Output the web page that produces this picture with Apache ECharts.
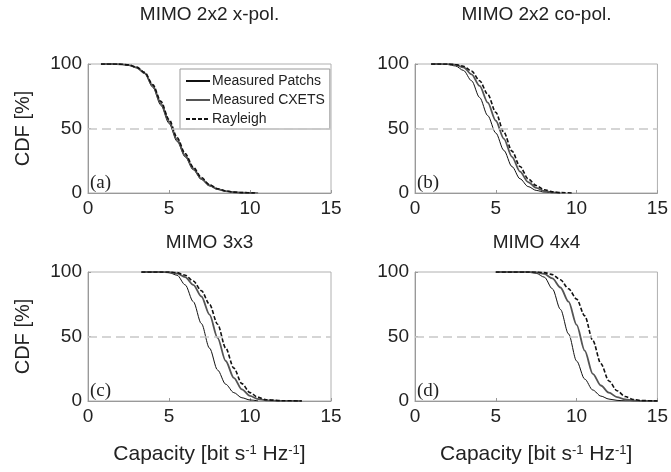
<!DOCTYPE html>
<html>
<head>
<meta charset="utf-8">
<script src="https://cdn.jsdelivr.net/npm/echarts@6/dist/echarts.min.js"></script>
<style>
html, body { margin: 0; padding: 0; background: #fff; }
#main { width: 671px; height: 472px; }
</style>
</head>
<body>
<div id="main"></div>
<script>
// 各面板标题和图例
var panelTitles = ['MIMO 2x2 x-pol.', 'MIMO 2x2 co-pol.', 'MIMO 3x3', 'MIMO 4x4'];
var panelLetters = ['(a)', '(b)', '(c)', '(d)'];
var seriesNames = ['Measured Patchs', 'Measured CXETS', 'Rayleigh'];
var xTicks = [0, 5, 10, 15];
var yTicks = [0, 50, 100];

// (a) MIMO 2x2 x-pol.  [capacity, CDF %]
var patchsA = [[0.8,100],[1.5,100],[2,99.8],[2.5,99],[3,97],[3.5,92.5],[4,82],[4.5,68],[5,54],[5.5,40],[6,28],[6.5,18],[7,10.5],[7.5,5.5],[8,2.8],[8.5,1.3],[9,0.6],[9.5,0.2],[10.5,0]];
var cxetsA = [[0.8,100],[1.5,100],[2,99.8],[2.5,99.2],[3,97.3],[3.5,93],[4,83],[4.5,69.5],[5,55.5],[5.5,41.5],[6,29],[6.5,19],[7,11],[7.5,6],[8,3],[8.5,1.4],[9,0.6],[9.5,0.2],[10.3,0]];
var rayleighA = [[0.8,100],[1.5,100],[2,99.9],[2.5,99.3],[3,97.6],[3.5,93.5],[4,84],[4.5,71],[5,57],[5.5,43],[6,30.5],[6.5,20],[7,12],[7.5,6.5],[8,3.3],[8.5,1.6],[9,0.7],[9.5,0.3],[10.3,0]];

// (b) MIMO 2x2 co-pol.
var patchsB = [[1,100],[1.5,100],[2,99.7],[2.5,98.5],[3,95],[3.5,87],[4,74],[4.5,60],[5,46.5],[5.5,33],[6,20.5],[6.5,11],[7,5],[7.5,2],[8,0.7],[8.5,0.1]];
var cxetsB = [[1,100],[1.5,100],[2,99.9],[2.5,99.3],[3,97.5],[3.5,92],[4,83],[4.5,70],[5,56],[5.5,42],[6,28],[6.5,16.5],[7,8.5],[7.5,4],[8,1.5],[8.5,0.5],[9,0]];
var rayleighB = [[1,100],[1.5,100],[2,100],[2.5,99.6],[3,98.3],[3.5,94.5],[4,87],[4.5,76.5],[5,62.5],[5.5,47],[6,32.5],[6.5,20.5],[7,11],[7.5,5.8],[8,2.5],[8.5,0.9],[9,0.3],[9.8,0]];

// (c) MIMO 3x3
var patchsC = [[3.3,100],[4,100],[4.5,100],[5,99.5],[5.5,97.5],[6,90],[6.5,77],[7,60],[7.5,41],[8,24],[8.5,13],[9,6.5],[9.5,2.5],[10,0.8],[10.5,0.1]];
var cxetsC = [[3.3,100],[4,100],[4.5,100],[5,99.8],[5.5,99],[6,96],[6.5,90],[7,81],[7.5,67],[8,49],[8.5,31],[9,18],[9.5,9],[10,4],[10.5,1.5],[11,0.5],[12,0.1],[13.2,0]];
var rayleighC = [[3.3,100],[4,100],[4.5,100],[5,100],[5.5,99.5],[6,97.5],[6.5,93],[7,85.5],[7.5,75],[8,59.5],[8.5,41],[9,25.5],[9.5,13.5],[10,6.5],[10.5,2.8],[11,1],[12,0.2],[13.2,0]];

// (d) MIMO 4x4
var patchsD = [[5,100],[6,100],[7,99.8],[7.5,99],[8,96],[8.5,87],[9,71],[9.5,52],[10,31],[10.5,17],[11,8.5],[11.5,3.8],[12,1.5],[12.5,0.5],[13,0.1],[14,0],[15,0]];
var cxetsD = [[5,100],[6,100],[7,100],[7.5,99.7],[8,98.5],[8.5,95],[9,88],[9.5,77],[10,59],[10.5,39],[11,21],[11.5,12],[12,6.5],[12.5,3],[13,1.2],[13.5,0.4],[14,0.1],[15,0]];
var rayleighD = [[5,100],[6,100],[7,100],[7.5,100],[8,99.5],[8.5,98],[9,94],[9.5,87],[10,79],[10.5,66],[11,47],[11.5,29],[12,15.5],[12.5,8],[13,3.5],[13.5,1.2],[14,0.3],[15,0]];

var curves = [
	[patchsA, cxetsA, rayleighA],
	[patchsB, cxetsB, rayleighB],
	[patchsC, cxetsC, rayleighC],
	[patchsD, cxetsD, rayleighD]
];

var chart = echarts.init(document.getElementById('main'));

var gridLeft = [88, 415, 88, 415];
var gridTop = [64, 64, 272, 272];
var gridW = 243, gridH = 129;
var fontSans = 'Liberation Sans, Arial, sans-serif';

var grids = [], xAxes = [], yAxes = [], series = [], graphics = [];
var lineStyles = [
	{ color: '#111', width: 1, type: 'solid' },
	{ color: '#555', width: 1.8, type: 'solid' },
	{ color: '#111', width: 1.6, type: [4, 2] }
];

for (var i = 0; i < 4; i++) {
	grids.push({
		left: gridLeft[i], top: gridTop[i], width: gridW, height: gridH,
		show: true, borderColor: '#b0b0b0', borderWidth: 1, backgroundColor: '#fff'
	});
	xAxes.push({
		type: 'value', gridIndex: i,
		min: xTicks[0], max: xTicks[xTicks.length - 1], interval: 5,
		axisLine: { show: true, lineStyle: { color: '#999' } },
		axisTick: { show: true, inside: true, length: 3, lineStyle: { color: '#999' } },
		axisLabel: { fontSize: 19, color: '#222', margin: 6, fontFamily: fontSans },
		splitLine: { show: false },
		name: i >= 2 ? 'Capacity [bit s{sup|-1} Hz{sup|-1}]' : '',
		nameLocation: 'middle',
		nameGap: 43,
		nameTextStyle: {
			fontSize: 21, color: '#222', fontFamily: fontSans,
			rich: { sup: { fontSize: 13, verticalAlign: 'top', color: '#222', fontFamily: fontSans } }
		}
	});
	yAxes.push({
		type: 'value', gridIndex: i,
		min: yTicks[0], max: yTicks[yTicks.length - 1], interval: 50,
		axisLine: { show: true, lineStyle: { color: '#999' } },
		axisTick: { show: true, inside: true, length: 3, lineStyle: { color: '#999' } },
		axisLabel: { fontSize: 19, color: '#222', margin: 6, fontFamily: fontSans },
		splitLine: { show: false },
		name: i % 2 === 0 ? 'CDF [%]' : '',
		nameLocation: 'middle',
		nameGap: 55,
		nameTextStyle: { fontSize: 20, color: '#222', fontFamily: fontSans }
	});
	for (var k = 0; k < 3; k++) {
		var s = {
			name: seriesNames[k],
			type: 'line',
			xAxisIndex: i, yAxisIndex: i,
			data: curves[i][k],
			symbol: 'none',
			smooth: 0.3,
			smoothMonotone: 'x',
			z: k === 0 ? 1 : 2,
			lineStyle: lineStyles[k],
			itemStyle: { color: lineStyles[k].color }
		};
		if (k === 0) {
			s.markLine = {
				silent: true, symbol: 'none', animation: false,
				label: { show: false },
				lineStyle: { color: '#c8c8c8', width: 1.5, type: [9, 5] },
				data: [{ yAxis: 50 }]
			};
		}
		series.push(s);
	}
	graphics.push({
		type: 'text',
		x: gridLeft[i] + gridW / 2, y: i < 2 ? 15 : 243,
		style: { text: panelTitles[i], align: 'center', verticalAlign: 'middle', fontSize: 19, fontFamily: fontSans, fill: '#222' }
	});
	graphics.push({
		type: 'text',
		x: gridLeft[i] + 2, y: gridTop[i] + gridH - 10,
		style: { text: panelLetters[i], align: 'left', verticalAlign: 'middle', fontSize: 19, fontFamily: 'Liberation Serif, Times New Roman, serif', fill: '#222' }
	});
}

var option = {
	animation: false,
	backgroundColor: '#fff',
	grid: grids,
	xAxis: xAxes,
	yAxis: yAxes,
	legend: {
		data: seriesNames,
		orient: 'vertical',
		left: 180, top: 69,
		backgroundColor: '#fff',
		borderColor: '#999', borderWidth: 1,
		padding: [5, 5, 3, 5],
		itemGap: 5, itemWidth: 24, itemHeight: 14,
		itemStyle: { opacity: 0, borderWidth: 0 },
		textStyle: { fontSize: 14, color: '#222', fontFamily: fontSans, padding: [0, 0, 0, -3] }
	},
	graphic: graphics,
	series: series
};
chart.setOption(option);
</script>
</body>
</html>
